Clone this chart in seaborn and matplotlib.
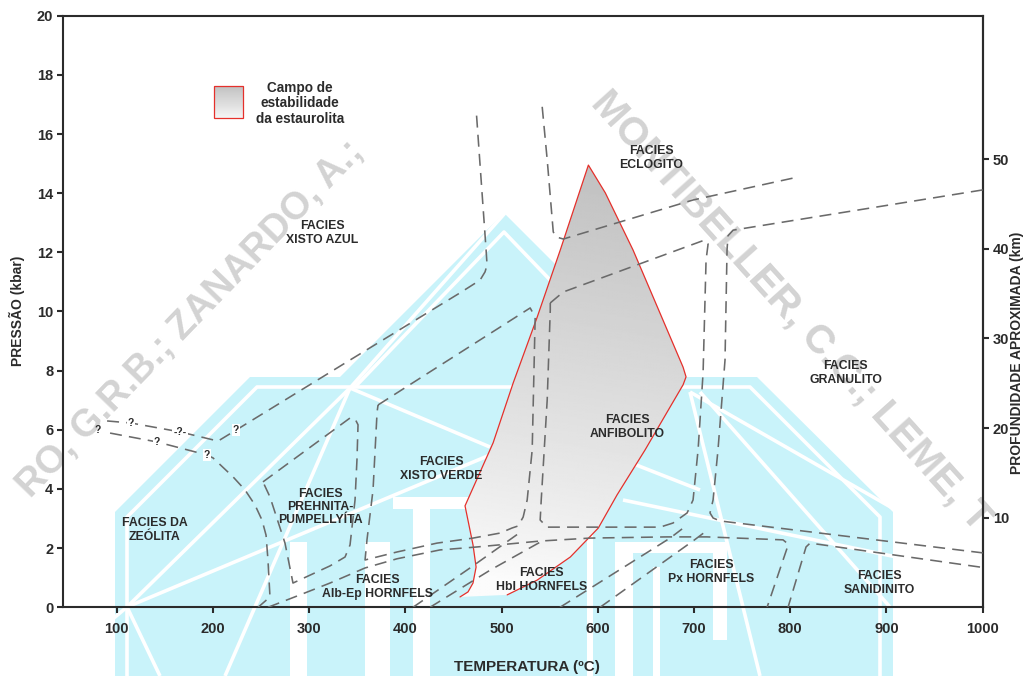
import numpy as np
import matplotlib
matplotlib.use("Agg")
import matplotlib.pyplot as plt
import seaborn as sns
from matplotlib.patches import Polygon, Rectangle

sns.set_theme(style="white")
plt.rcParams["font.family"] = ["Liberation Sans", "DejaVu Sans"]
plt.rcParams["font.weight"] = "bold"

INK = "#2b2b2b"
DASH = "#6a6a6a"
RED = "#e5302b"

# ---------------- facies boundaries (temperature ºC, pressure kbar) ----------------
blueschist_T = [90.0, 114.9, 165.8, 205.3, 224.0, 342.5, 456.8, 477.6, 482.8, 484.9, 483.9, 473.5]
blueschist_P = [6.30, 6.23, 5.93, 5.62, 5.99, 8.36, 10.63, 11.06, 11.34, 11.57, 12.08, 16.85]

zeolite_T = [93.1, 141.9, 193.8, 200.1, 220.9, 233.3, 243.7, 251.0, 255.2, 257.2, 259.3, 246.9]
zeolite_P = [5.89, 5.59, 5.15, 5.05, 4.41, 3.97, 3.46, 2.95, 2.44, 1.60, 0.35, 0.00]

prehnite_T = [252.0, 342.5, 347.7, 350.8, 349.7, 347.7, 342.5, 337.3, 321.7, 283.2, 274.9, 259.3, 252.0]
prehnite_P = [4.24, 6.40, 6.37, 6.17, 4.99, 3.63, 2.11, 1.70, 1.40, 0.82, 2.17, 3.73, 4.24]

greenschist_T = [371.6, 529.7, 534.9, 531.8, 526.6, 522.4, 517.2, 510.8, 498.5, 470.3, 432.9,
                 391.3, 358.1, 360.1, 366.4, 370.6, 371.6]
greenschist_P = [6.84, 10.12, 9.81, 5.32, 3.63, 3.05, 2.75, 2.68, 2.51, 2.34, 2.17,
                 1.87, 1.60, 2.28, 3.97, 6.60, 6.84]

amphibolite_T = [550.6, 564.1, 711.4, 714.6, 712.5, 709.4, 704.2, 699.0, 692.8, 678.2, 664.7,
                 547.4, 540.1, 541.2, 544.3, 547.4, 550.6, 550.6]
amphibolite_P = [10.29, 10.66, 12.42, 12.28, 11.74, 7.92, 5.32, 3.63, 3.19, 2.85, 2.71,
                 2.71, 2.95, 3.63, 5.32, 7.01, 10.05, 10.29]

eclogite_T = [542.2, 547.4, 553.7, 556.8, 564.1, 699.0, 802.9]
eclogite_P = [16.92, 15.13, 12.69, 12.52, 12.45, 13.77, 14.51]

granulite_T = [1000.0, 740.6, 735.3, 734.3, 732.2, 724.9, 719.8, 716.6, 719.8, 726.9, 820.6, 1000.0]
granulite_P = [14.11, 12.75, 12.56, 12.08, 8.36, 5.32, 3.63, 3.19, 3.02, 2.92, 2.55, 1.84]

hornfels_low_T = [257.2, 290.5, 321.7, 358.1, 391.3, 436.0, 474.5, 540.1, 592.2, 672.0, 713.5,
                  792.5, 797.7, 796.7, 775.9]
hornfels_low_P = [0.00, 0.42, 0.82, 1.33, 1.64, 1.94, 2.04, 2.24, 2.34, 2.38, 2.38,
                  2.28, 2.14, 2.00, 0.00]

sanidinite_T = [997.2, 820.6, 816.4, 797.7]
sanidinite_P = [1.36, 2.17, 2.04, 0.00]

hbl_left_T = [407.9, 467.2, 518.3]
hbl_left_P = [0.00, 1.33, 2.51]
hbl_left2_T = [425.6, 488.3, 544.3]
hbl_left2_P = [0.00, 1.26, 2.28]
px_left_T = [560.7, 675.1, 687.6]
px_left_P = [0.00, 2.34, 2.65]
px_left2_T = [602.3, 700.5, 714.0]
px_left2_P = [0.00, 2.28, 2.61]

boundaries = [
    (blueschist_T, blueschist_P), (zeolite_T, zeolite_P), (prehnite_T, prehnite_P),
    (greenschist_T, greenschist_P), (amphibolite_T, amphibolite_P), (eclogite_T, eclogite_P),
    (granulite_T, granulite_P), (hornfels_low_T, hornfels_low_P), (sanidinite_T, sanidinite_P),
    (hbl_left_T, hbl_left_P), (hbl_left2_T, hbl_left2_P), (px_left_T, px_left_P),
    (px_left2_T, px_left2_P),
]

# staurolite stability field outline (left limb bottom -> top -> right limb bottom)
staurolite_T = [456.8, 465.1, 470.3, 473.5, 470.3, 462.0, 491.2, 512.0, 537.0, 561.0, 590.2,
                607.8, 636.6, 688.6, 691.7, 688.6, 675.1, 649.1, 620.0, 600.5, 571.4, 537.0, 505.8]
staurolite_P = [0.35, 0.52, 0.82, 1.36, 2.11, 3.43, 5.56, 7.58, 9.81, 12.08, 14.95,
                14.01, 12.08, 8.12, 7.79, 7.52, 6.77, 5.32, 3.80, 2.68, 1.70, 0.92, 0.42]

# uncertain segments
query_T = [80.6, 114.9, 165.8, 141.9, 193.8, 224.0]
query_P = [5.99, 6.23, 5.93, 5.59, 5.15, 5.99]
query_txt = ["?", "?", "-?-", "?", "?", "?"]
query_box = [False, True, True, True, True, True]

facies_names = ["FACIES\nXISTO AZUL", "FACIES\nECLOGITO", "FACIES\nGRANULITO", "FACIES\nANFIBOLITO",
                "FACIES\nXISTO VERDE", "FACIES\nPREHNITA-\nPUMPELLYÍTA", "FACIES DA\nZEÓLITA",
                "FACIES\nAlb-Ep HORNFELS", "FACIES\nHbl HORNFELS", "FACIES\nPx HORNFELS",
                "FACIES\nSANIDINITO"]
facies_T = [313.5, 655.3, 857.8, 630.6, 437.0, 311.3, 139.8, 370.6, 541.2, 717.6, 892.3]
facies_P = [12.65, 15.19, 7.92, 6.10, 4.68, 3.39, 2.61, 0.69, 0.92, 1.19, 0.82]

x_ticks = [100, 200, 300, 400, 500, 600, 700, 800, 900, 1000]
y_ticks = [0, 2, 4, 6, 8, 10, 12, 14, 16, 18, 20]
depth_ticks = [10, 20, 30, 40, 50]
KM_PER_KBAR = 3.3

W, H = 1027, 676
fig = plt.figure(figsize=(W / 100, H / 100), dpi=100)
fig.patch.set_facecolor("white")

# ---------------- background logo / credit layer (pixel space) ----------------
bg = fig.add_axes([0, 0, 1, 1], zorder=0)
bg.set_xlim(0, W)
bg.set_ylim(H, 0)
bg.axis("off")
CYAN = "#c9f3fa"
outer = [(115, 676), (115, 512), (250, 377), (340, 377), (504, 213), (668, 377),
         (757, 377), (893, 512), (893, 676)]
bg.add_patch(Polygon(outer, closed=True, facecolor=CYAN, edgecolor="none"))
wl = dict(color="white", lw=2.6, solid_capstyle="butt")
bg.plot([127, 127, 257, 750, 880, 880], [676, 517, 387, 387, 517, 676], **wl)
bg.plot([355, 504, 653], [387, 232, 387], **wl)
for seg in [((127, 350), (607, 388)), ((127, 490), (607, 455)), ((127, 45), (607, 676)),
            ((127, 160), (607, 676)), ((350, 225), (388, 676)), ((350, 490), (388, 447)),
            ((350, 505), (388, 213)), ((690, 983), (392, 560)), ((700, 890), (392, 607)),
            ((623, 983), (500, 575)), ((690, 760), (392, 676)), ((560, 700), (435, 490))]:
    bg.plot(seg[0], seg[1], **wl)
for (x0, y0, w, h) in [(290, 542, 17, 140), (365, 542, 25, 140), (393, 497, 75, 12),
                       (413, 505, 17, 180), (587, 527, 6, 150), (615, 542, 112, 11),
                       (615, 542, 18, 140), (653, 567, 7, 110), (713, 543, 14, 97)]:
    bg.add_patch(Rectangle((x0, y0), w, h, facecolor="white", edgecolor="none"))

wm = dict(fontweight="bold", color="#d3d3d3", rotation_mode="anchor", va="center")
bg.text(358, 146, "RO, G.R.B.; ZANARDO, A.;", rotation=46, ha="right", fontsize=27.5, **wm)
bg.text(598, 96, "MONTIBELLER, C.C.; LEME, T", rotation=-48, ha="left", fontsize=29, **wm)

# ---------------- main P-T diagram ----------------
ax = fig.add_axes([63.3 / W, (H - 607.3) / H, 919.4 / W, 591.6 / H], zorder=2)
ax.patch.set_alpha(0)

# staurolite field with vertical gray gradient
field = Polygon(np.column_stack([staurolite_T, staurolite_P]), closed=True,
                facecolor="none", edgecolor="none")
ax.add_patch(field)
Tg, Pg = np.meshgrid(np.linspace(440, 700, 120), np.linspace(0, 15.2, 300))
v = np.clip((Pg - 0.4) / 14.6 + (Tg - 600) / 2500, 0, 1)
shade = 0.985 - 0.23 * v ** 0.85
img = ax.imshow(shade, cmap="gray", vmin=0, vmax=1, extent=[440, 700, 0, 15.2],
                origin="lower", aspect="auto", interpolation="bilinear", zorder=1)
img.set_clip_path(field)
sns.lineplot(x=staurolite_T, y=staurolite_P, sort=False, estimator=None, ax=ax,
             color=RED, linewidth=0.9, zorder=3)

for T, P in boundaries:
    sns.lineplot(x=T, y=P, sort=False, estimator=None, ax=ax, color=DASH,
                 linewidth=1.15, linestyle=(0, (7.5, 4.5)), zorder=4)

for t, p, s, box in zip(query_T, query_P, query_txt, query_box):
    ax.text(t, p, s, ha="center", va="center", fontsize=7.5, color=INK, zorder=6,
            bbox=dict(boxstyle="square,pad=0.1", fc="white", ec="none") if box else None)

for name, t, p in zip(facies_names, facies_T, facies_P):
    ax.text(t, p, name, ha="center", va="center", fontsize=8.8, color=INK,
            linespacing=1.15, zorder=6)

# legend swatch
lx0, lx1, ly0, ly1 = 0.1639, 0.1955, 0.827, 0.881
gy = np.linspace(0.96, 0.76, 50).reshape(-1, 1)
ax.imshow(gy, cmap="gray", vmin=0, vmax=1, extent=[lx0, lx1, ly0, ly1], origin="lower",
          aspect="auto", transform=ax.transAxes, zorder=5)
ax.add_patch(Rectangle((lx0, ly0), lx1 - lx0, ly1 - ly0, transform=ax.transAxes,
                       facecolor="none", edgecolor=RED, lw=0.9, zorder=6))
ax.text(0.2575, 0.852, "Campo de\nestabilidade\nda estaurolita", transform=ax.transAxes,
        ha="center", va="center", fontsize=9.8, color=INK, linespacing=1.15, zorder=6)

ax.set_xlim(44.5, 1000)
ax.set_ylim(0, 20)
ax.set_xticks(x_ticks)
ax.set_yticks(y_ticks)
ax.tick_params(axis="both", direction="out", length=4.3, width=1.5, colors=INK,
               labelsize=10.5, left=True, bottom=True)
ax.tick_params(axis="x", pad=6.5)
ax.tick_params(axis="y", pad=3)
for lab in ax.get_xticklabels() + ax.get_yticklabels():
    lab.set_fontweight("bold")
for sp in ax.spines.values():
    sp.set_visible(True)
    sp.set_linewidth(1.5)
    sp.set_color(INK)
ax.set_xlabel("")
ax.set_ylabel("")

sec = ax.secondary_yaxis("right", functions=(lambda p: p * KM_PER_KBAR, lambda d: d / KM_PER_KBAR))
sec.set_yticks(depth_ticks)
sec.tick_params(direction="out", length=4.3, width=1.5, colors=INK, labelsize=10.5, pad=3)
sec.spines["right"].set_linewidth(1.5)
sec.spines["right"].set_color(INK)
for lab in sec.get_yticklabels():
    lab.set_fontweight("bold")

fig.text(527 / W, 1 - 667 / H, "TEMPERATURA (ºC)", ha="center", va="center",
         fontsize=11, color=INK, fontweight="bold")
fig.text(17 / W, 1 - 311 / H, "PRESSÃO (kbar)", rotation=90, ha="center", va="center",
         fontsize=10, color=INK, fontweight="bold")
fig.text(1017 / W, 1 - 353 / H, "PROFUNDIDADE APROXIMADA (km)", rotation=90, ha="center",
         va="center", fontsize=10, color=INK, fontweight="bold")

fig.savefig("out.png", dpi=100, facecolor="white")
